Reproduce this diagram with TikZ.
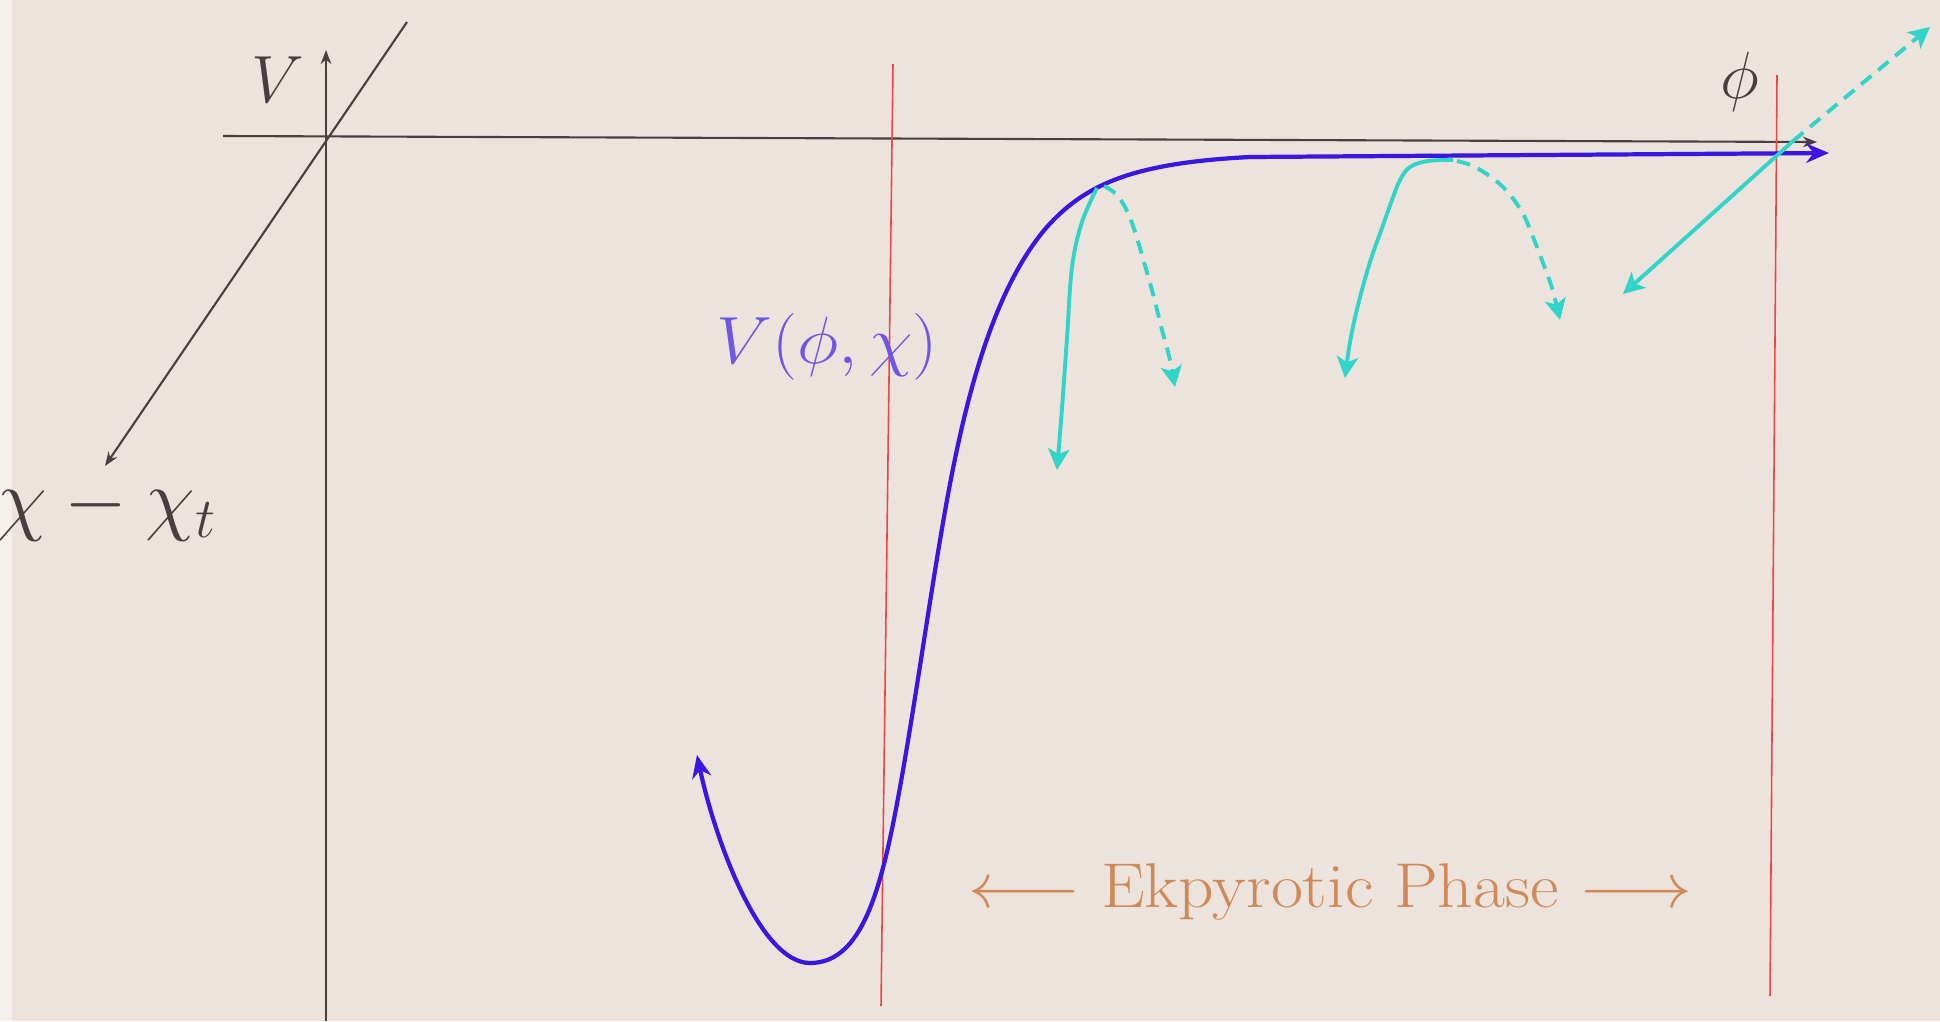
\documentclass[tikz,border=0pt]{standalone}
\usepackage{fix-cm}
\usetikzlibrary{arrows.meta}
\definecolor{bgc}{RGB}{235,227,220}
\definecolor{axc}{RGB}{72,64,64}
\definecolor{curvec}{RGB}{58,22,222}
\definecolor{labc}{RGB}{112,86,228}
\definecolor{cyanc}{RGB}{48,212,200}
\definecolor{redc}{RGB}{238,70,70}
\definecolor{orc}{RGB}{208,138,88}
\begin{document}
\begin{tikzpicture}[x=0.01cm,y=-0.01cm,
  axis/.style={draw=axc, line width=0.6pt, -{Stealth[length=4pt,width=3pt]}},
  redline/.style={draw=redc, line width=0.45pt},
  bluecurve/.style={draw=curvec, line width=1.2pt, line cap=round,
    {Stealth[length=6.5pt,width=5.5pt]}-{Stealth[length=6.5pt,width=5.5pt]}},
  flow/.style={draw=cyanc, line width=1.1pt, -{Stealth[length=6pt,width=6pt,inset=1.5pt]}},
  flowdash/.style={flow, dash pattern=on 3.8pt off 2.5pt},
  lab/.style={inner sep=0pt}]
\fill[bgc] (0,0) rectangle (1940,1021);
\fill[bgc!55!white] (0,0) rectangle (12,1021);
\useasboundingbox (0,0) rectangle (1940,1021);

% axes
\coordinate (Hs) at (223,136);
\coordinate (He) at (1817,142);
\coordinate (Vs) at (326,1021);
\coordinate (Ve) at (326,50);
\coordinate (Ds) at (407,22);
\coordinate (De) at (105,466);
\draw[axis] (Hs) -- (He);
\draw[axis] (Vs) -- (Ve);
\draw[axis] (Ds) -- (De);

% red lines
\coordinate (R1a) at (893,64);
\coordinate (R1b) at (881,1006);
\coordinate (R2a) at (1777,75);
\coordinate (R2b) at (1770,996);
\draw[redline] (R1a) -- (R1b);
\draw[redline] (R2a) -- (R2b);

% potential curve
\coordinate (P0) at (697,755);
\coordinate (P1) at (810,963);
\coordinate (P2) at (885,860);
\coordinate (P3) at (947,500);
\coordinate (P4) at (1046,228);
\coordinate (P5) at (1250,157);
\coordinate (P6) at (1829,153);
\draw[bluecurve] (P0) .. controls (715,840) and (760,963) .. (P1)
  .. controls (850,963) and (870,920) .. (P2)
  .. controls (905,780) and (927,610) .. (P3)
  .. controls (967,390) and (995,288) .. (P4)
  .. controls (1085,184) and (1133,163) .. (P5)
  -- (P6);

% cyan trajectories
\draw[flow] plot[smooth,tension=0.6] coordinates {
 (1097,188) (1082,222) (1072,267) (1067,338) (1062,408) (1057,470)};
\draw[flowdash] plot[smooth,tension=0.6] coordinates {
 (1104,186) (1117,195) (1128,213) (1136,235) (1144,262) (1153,294)
 (1162,330) (1169,356) (1175,387)};
\draw[flow] plot[smooth,tension=0.6] coordinates {
 (1453,160) (1428,161) (1410,167) (1400,180) (1392,200) (1382,228)
 (1370,262) (1358,305) (1350,342) (1345,378)};
\draw[flowdash] plot[smooth,tension=0.6] coordinates {
 (1457,161) (1477,168) (1503,187) (1522,212) (1533,237) (1543,263)
 (1552,288) (1560,320)};
\coordinate (S3) at (1793,141);
\coordinate (E3a) at (1623,294);
\coordinate (E3b) at (1930,27);
\draw[flow] (S3) -- (E3a);
\draw[flowdash] (S3) -- (E3b);

% labels
\node[lab, text=axc, font=\fontsize{19}{22}\selectfont] (Vlab) at (278,80) {$V$};
\node[lab, text=axc, font=\fontsize{19}{22}\selectfont] (philab) at (1740,82) {$\phi$};
\node[lab, text=axc, font=\fontsize{23}{27}\selectfont] (chilab) at (107,510) {$\chi-\chi_t$};
\node[lab, text=labc, font=\fontsize{19}{23}\selectfont] (Vpc) at (827,347)
  {\scalebox{1.06}[1]{$V(\phi,\chi)$}};
\node[lab, text=orc, font=\fontsize{18}{22}\selectfont, anchor=base] (ek) at (1330,907)
  {\scalebox{1.1}[1]{$\longleftarrow$ Ekpyrotic Phase $\longrightarrow$}};
\end{tikzpicture}
\end{document}
